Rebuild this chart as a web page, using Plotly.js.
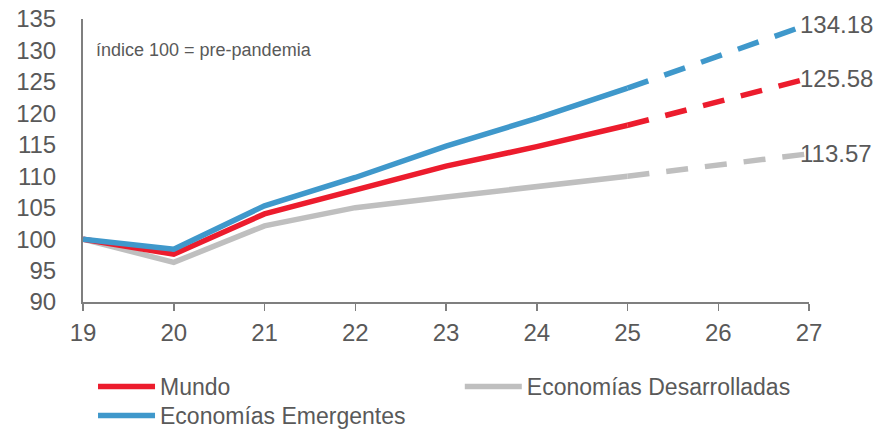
<!DOCTYPE html>
<html>
<head>
<meta charset="utf-8">
<script src="https://cdn.plot.ly/plotly-3.0.1.min.js"></script>
<style>html,body{margin:0;padding:0;background:#fff}#chart{width:885px;height:433px}</style>
</head>
<body>
<div id="chart"></div>
<script>
// Data
const yearsHist = [19, 20, 21, 22, 23, 24, 25];
const yearsProj = [25, 26, 27];
const mundoHist = [100, 97.6, 104.0, 107.9, 111.6, 114.7, 118.1];
const mundoProj = [118.1, 121.8, 125.58];
const desarrolladasHist = [100, 96.3, 102.1, 105.0, 106.7, 108.4, 110.0];
const desarrolladasProj = [110.0, 111.7, 113.57];
const emergentesHist = [100, 98.4, 105.3, 109.8, 114.8, 119.2, 124.0];
const emergentesProj = [124.0, 129.1, 134.18];
const xTicks = [19, 20, 21, 22, 23, 24, 25, 26, 27];
const yTicks = [90, 95, 100, 105, 110, 115, 120, 125, 130, 135];
const seriesNames = ["Mundo", "Economías Desarrolladas", "Economías Emergentes"];
const noteText = "índice 100 = pre-pandemia";

const RED = "#EC1C2D", GRAY = "#BFBFBF", BLUE = "#3F98CB";
const TXT = "#595959";
const FONT = "Liberation Sans, Arial, sans-serif";
const W = 5.5;
const DASH = "22px,17px";

const traces = [
  {x: yearsHist, y: desarrolladasHist, name: seriesNames[1], legend: "legend3", mode: "lines", line: {color: GRAY, width: W}},
  {x: yearsProj, y: desarrolladasProj, showlegend: false, mode: "lines", line: {color: GRAY, width: W, dash: DASH}},
  {x: yearsHist, y: mundoHist, name: seriesNames[0], legend: "legend", mode: "lines", line: {color: RED, width: W}},
  {x: yearsProj, y: mundoProj, showlegend: false, mode: "lines", line: {color: RED, width: W, dash: DASH}},
  {x: yearsHist, y: emergentesHist, name: seriesNames[2], legend: "legend2", mode: "lines", line: {color: BLUE, width: W}},
  {x: yearsProj, y: emergentesProj, showlegend: false, mode: "lines", line: {color: BLUE, width: W, dash: DASH}}
];
traces.forEach(t => t.hoverinfo = "skip");

const lastX = xTicks[xTicks.length - 1];
const endVals = [emergentesProj[2], mundoProj[2], desarrolladasProj[2]];
const annotations = endVals.map(v => ({
  x: lastX, y: v, xref: "x", yref: "y", text: v.toFixed(2), showarrow: false,
  xanchor: "left", yanchor: "middle", xshift: -11,
  font: {family: FONT, size: 24, color: TXT}
}));
annotations.push({
  x: 0.0145, y: 0.89, xref: "paper", yref: "paper", text: noteText, showarrow: false,
  xanchor: "left", yanchor: "middle", font: {family: FONT, size: 18, color: TXT}
});

const legendCommon = {
  orientation: "h", xanchor: "left", yanchor: "top", traceorder: "normal",
  font: {family: FONT, size: 23, color: TXT}, itemwidth: 57, tracegroupgap: 0,
  bgcolor: "rgba(0,0,0,0)"
};

const layout = {
  width: 885, height: 433,
  margin: {l: 83, r: 76, t: 19, b: 131, autoexpand: false},
  paper_bgcolor: "#fff", plot_bgcolor: "#fff",
  font: {family: FONT, color: TXT},
  showlegend: true,
  xaxis: {
    range: [19, 27], tickvals: xTicks, ticktext: xTicks.map(String),
    showgrid: false, zeroline: false, showline: true, linecolor: "#7F7F7F", linewidth: 2,
    ticks: "outside", ticklen: 7, tickwidth: 1.5, tickcolor: "#7F7F7F",
    tickfont: {family: FONT, size: 24, color: TXT}, ticklabelstandoff: 1
  },
  yaxis: {
    range: [90, 135], tickvals: yTicks, ticktext: yTicks.map(String),
    showgrid: false, zeroline: false, showline: true, linecolor: "#7F7F7F", linewidth: 2,
    ticks: "", tickfont: {family: FONT, size: 24, color: TXT}, ticklabelstandoff: 20
  },
  legend: Object.assign({}, legendCommon, {x: 0.0138, y: -0.2226}),
  legend3: Object.assign({}, legendCommon, {x: 0.519, y: -0.2226}),
  legend2: Object.assign({}, legendCommon, {x: 0.0138, y: -0.325}),
  annotations: annotations
};

Plotly.newPlot("chart", traces, layout, {displayModeBar: false, staticPlot: true});
</script>
</body>
</html>
